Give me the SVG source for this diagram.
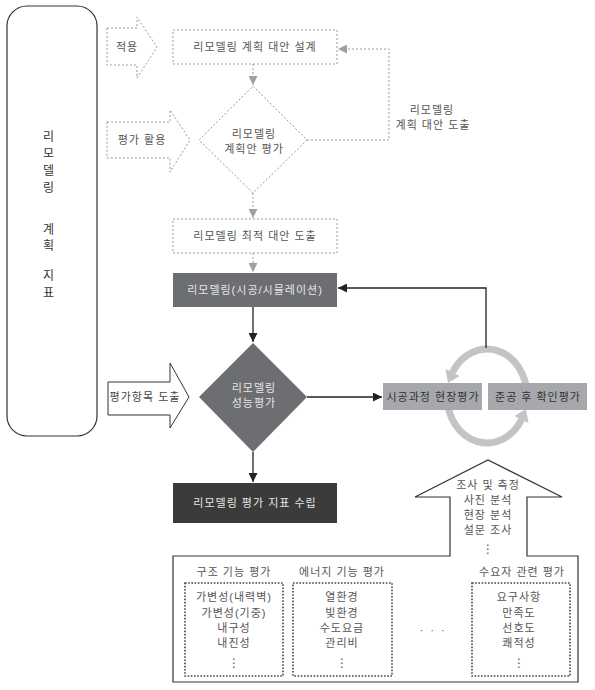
<svg xmlns="http://www.w3.org/2000/svg" width="595" height="690" viewBox="0 0 595 690">
<defs>
<style>
text{font-family:"Liberation Sans","Noto Sans CJK KR",sans-serif;font-size:11px;letter-spacing:1px;text-anchor:middle;fill:#555}
.dot{fill:#fff;stroke:#9a9a9a;stroke-width:1;stroke-dasharray:2 2}
.dline{fill:none;stroke:#9a9a9a;stroke-width:1;stroke-dasharray:2 2}
.bline{fill:none;stroke:#222;stroke-width:1.3}
.dk{fill:#e6e6e6}
.lt{fill:#333}
.bdot{fill:none;stroke:#444;stroke-width:1.6;stroke-dasharray:1.6 1.6}
</style>
<marker id="ga" viewBox="0 0 10 10" refX="10" refY="5" markerUnits="userSpaceOnUse" markerWidth="10" markerHeight="9" orient="auto"><path d="M0,0L10,5L0,10z" fill="#a0a0a0"/></marker>
<marker id="ba" viewBox="0 0 10 10" refX="10" refY="5" markerUnits="userSpaceOnUse" markerWidth="10" markerHeight="9" orient="auto"><path d="M0,0L10,5L0,10z" fill="#222"/></marker>
</defs>
<rect width="595" height="690" fill="#fff"/>

<g id="left-index">
<rect x="7" y="6" width="90" height="430" rx="20" fill="#fff" stroke="#333" stroke-width="1.2"/>
<text x="49" y="141" style="fill:#333;font-size:12px">리</text>
<text x="49" y="158" style="fill:#333;font-size:12px">모</text>
<text x="49" y="175" style="fill:#333;font-size:12px">델</text>
<text x="49" y="192" style="fill:#333;font-size:12px">링</text>
<text x="49" y="234" style="fill:#333;font-size:12px">계</text>
<text x="49" y="250" style="fill:#333;font-size:12px">획</text>
<text x="49" y="280" style="fill:#333;font-size:12px">지</text>
<text x="49" y="297" style="fill:#333;font-size:12px">표</text>
</g>

<g id="arrow-apply">
<polygon class="dot" points="107,28 137,28 137,17 157,47 137,78 137,65 107,65"/>
<text x="127" y="51">적용</text>
</g>
<g id="arrow-eval-use">
<polygon class="dot" points="107,122 170,122 170,110 190,140 170,172 170,158 107,158"/>
<text x="142" y="144">평가 활용</text>
</g>
<g id="arrow-items">
<polygon points="108,382 170,382 170,363 189,397 170,428 170,415 108,415" fill="#fff" stroke="#333" stroke-width="1"/>
<text x="145" y="401" style="fill:#444">평가항목 도출</text>
</g>

<g id="ring">
<path d="M527,396 A40,47 0 0 0 452.4,372.5" fill="none" stroke="#c4c4c4" stroke-width="7"/>
<polygon points="448,383 459.5,376 445.5,369" fill="#c4c4c4"/>
<path d="M447,396 A40,47 0 0 0 521.6,419.5" fill="none" stroke="#c4c4c4" stroke-width="7"/>
<polygon points="526,409 514.5,416 528.5,423" fill="#c4c4c4"/>
</g>

<g id="connectors">
<path class="dline" d="M253,64V85" marker-end="url(#ga)"/>
<path class="dline" d="M253,193V218" marker-end="url(#ga)"/>
<path class="dline" d="M253,253V272" marker-end="url(#ga)"/>
<path class="dline" d="M307,140H389V49H338" marker-end="url(#ga)"/>
<path class="bline" d="M253,307V342" marker-end="url(#ba)"/>
<path class="bline" d="M253,452V482" marker-end="url(#ba)"/>
<path class="bline" d="M307,397H382" marker-end="url(#ba)"/>
<path class="bline" d="M486,348V288H338" marker-end="url(#ba)"/>
</g>
<text x="432" y="114">리모델링</text>
<text x="433" y="129">계획 대안 도출</text>

<g id="plan-design">
<rect class="dot" x="173" y="30" width="164" height="34"/>
<text x="255" y="51">리모델링 계획 대안 설계</text>
</g>
<g id="plan-eval">
<polygon class="dot" points="253,86 307,140 253,193 199,140"/>
<text x="254" y="138">리모델링</text>
<text x="254" y="153">계획안 평가</text>
</g>
<g id="optimal">
<rect class="dot" x="173" y="219" width="164" height="34"/>
<text x="255" y="240">리모델링 최적 대안 도출</text>
</g>
<g id="remodeling">
<rect x="173" y="273" width="164" height="34" fill="#6d6e71"/>
<text class="dk" x="255" y="294">리모델링(시공/시뮬레이션)</text>
</g>
<g id="performance">
<polygon points="253,343 307,397 253,452 199,397" fill="#6d6e71"/>
<text class="dk" x="254" y="392">리모델링</text>
<text class="dk" x="254" y="407">성능평가</text>
</g>
<g id="index-setup">
<rect x="173" y="483" width="164" height="40" fill="#3b3b3c"/>
<text class="dk" x="255" y="507">리모델링 평가 지표 수립</text>
</g>
<g id="site-eval">
<rect x="383" y="383" width="99" height="27" fill="#a7a8ab"/>
<text class="lt" x="433" y="401">시공과정 현장평가</text>
</g>
<g id="post-eval">
<rect x="488" y="383" width="99" height="27" fill="#a7a8ab"/>
<text class="lt" x="538" y="401">준공 후 확인평가</text>
</g>

<g id="methods">
<path d="M173,556H450V497H415L488,460L562,497H527V556H578V682H173Z" fill="#fff" stroke="#333" stroke-width="1.2"/>
<text x="488" y="489">조사 및 측정</text>
<text x="488" y="504">사진 분석</text>
<text x="488" y="519">현장 분석</text>
<text x="488" y="534">설문 조사</text>
<text x="488" y="553" style="font-family:'DejaVu Sans',sans-serif;font-size:12px;letter-spacing:0">⋮</text>
</g>

<g id="structure">
<text x="234" y="576">구조 기능 평가</text>
<rect class="bdot" x="185" y="583" width="98" height="93"/>
<text x="234" y="601">가변성(내력벽)</text>
<text x="234" y="617">가변성(기중)</text>
<text x="234" y="632">내구성</text>
<text x="234" y="647">내진성</text>
<text x="234" y="667" style="font-family:'DejaVu Sans',sans-serif;font-size:12px;letter-spacing:0">⋮</text>
</g>
<g id="energy">
<text x="342" y="576">에너지 기능 평가</text>
<rect class="bdot" x="293" y="583" width="99" height="93"/>
<text x="342" y="601">열환경</text>
<text x="342" y="617">빛환경</text>
<text x="342" y="632">수도요금</text>
<text x="342" y="647">관리비</text>
<text x="342" y="667" style="font-family:'DejaVu Sans',sans-serif;font-size:12px;letter-spacing:0">⋮</text>
</g>
<text x="433" y="634" style="letter-spacing:2px">· · ·</text>
<g id="user">
<text x="522" y="576">수요자 관련 평가</text>
<rect class="bdot" x="472" y="583" width="98" height="93"/>
<text x="519" y="601">요구사항</text>
<text x="519" y="617">만족도</text>
<text x="519" y="632">선호도</text>
<text x="519" y="647">쾌적성</text>
<text x="519" y="667" style="font-family:'DejaVu Sans',sans-serif;font-size:12px;letter-spacing:0">⋮</text>
</g>
</svg>
